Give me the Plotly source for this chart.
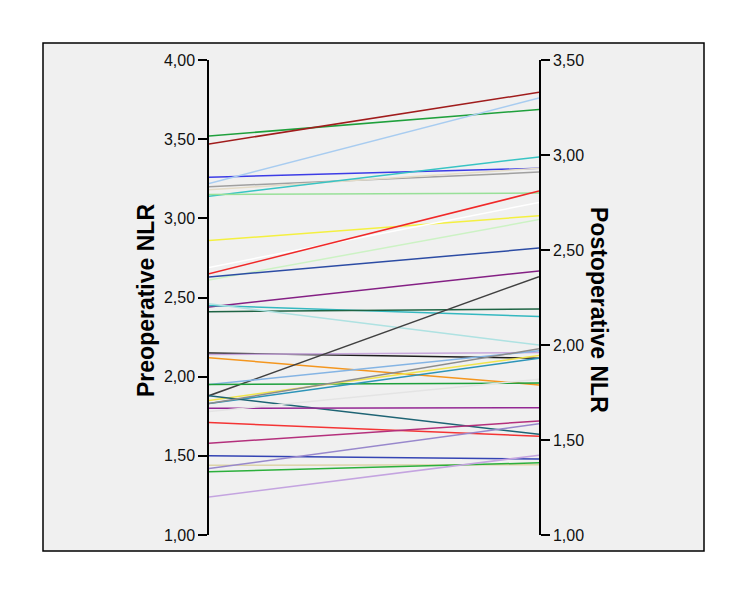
import plotly.graph_objects as go

# NLR per patient: preoperative (left axis) and postoperative (right axis)
pre_nlr = [3.52, 3.47, 3.26, 3.22, 3.20, 3.18, 3.14, 3.15, 2.86, 2.69,
           2.65, 2.61, 2.63, 2.44, 2.45, 2.41, 2.46, 2.15, 2.14, 2.12,
           1.88, 1.95, 1.95, 1.85, 1.83, 1.88, 1.80, 1.71, 1.83, 1.58,
           1.50, 1.44, 1.42, 1.40, 1.24, 1.78]
post_nlr = [3.24, 3.33, 2.93, 3.30, 2.91, 2.93, 2.99, 2.80, 2.68, 2.75,
            2.81, 2.66, 2.51, 2.39, 2.15, 2.19, 2.00, 1.93, 1.96, 1.79,
            2.36, 1.97, 1.80, 1.945, 1.93, 1.53, 1.67, 1.52, 1.98, 1.60,
            1.40, 1.37, 1.585, 1.38, 1.42, 1.82]
line_colors = ['#1FA03C', '#A01C1C', '#3C3CE6', '#A8CCF0', '#A0A0A0', '#E4DCC8',
               '#38C4C4', '#98E098', '#F4F040', '#FFFFFF', '#F02828', '#CCF2C4',
               '#2C4CA4', '#842084', '#34B8C0', '#1E6444', '#AEE2E2', '#1E1E1E',
               '#C8A8DC', '#F4961E', '#404040', '#84B4E4', '#1EA03C', '#F0E44C',
               '#2C94B8', '#1E6474', '#942894', '#F43434', '#8C8C8C', '#B4307C',
               '#3444B4', '#DCD4A8', '#9888CC', '#2CB03C', '#C4A4E0', '#E4E4E4']

left_ticks = [1.0, 1.5, 2.0, 2.5, 3.0, 3.5, 4.0]
right_ticks = [1.0, 1.5, 2.0, 2.5, 3.0, 3.5]
left_range = [1.0, 4.0]
right_range = [1.0, 3.5]


def to_left(v):
    # place a postoperative value on the left axis scale
    return left_range[0] + (v - right_range[0]) * (left_range[1] - left_range[0]) / (right_range[1] - right_range[0])


fig = go.Figure()
for pre, post, col in zip(pre_nlr, post_nlr, line_colors):
    fig.add_trace(go.Scatter(
        x=[0, 1], y=[pre, to_left(post)], mode='lines',
        line=dict(color=col, width=1.5), showlegend=False, hoverinfo='skip'
    ))

# dummy trace so the right axis is drawn
fig.add_trace(go.Scatter(x=[1], y=[right_range[0]], yaxis='y2', mode='markers',
                         marker=dict(size=0.1, opacity=0), showlegend=False, hoverinfo='skip'))

# pixel geometry (page body adds an 8px margin, so the figure is 8px smaller)
OFF = 8
W, H = 750 - OFF, 597 - OFF
L, T = 209 - OFF, 60 - OFF
pw, ph = 330, 475
R, B = W - L - pw, H - T - ph


def px(xp):
    return (xp - OFF - L) / pw


def py(yp):
    return (T + ph - (yp - OFF)) / ph


font_family = 'Liberation Sans, Arial, sans-serif'
axis_common = dict(
    ticks='outside', ticklen=9, tickwidth=1.5, tickcolor='black',
    showline=True, linecolor='black', linewidth=1.5,
    showgrid=False, zeroline=False, tickformat='.2f',
    tickfont=dict(family=font_family, size=16, color='#111111'),
    fixedrange=True,
)

fig.update_layout(
    width=W, height=H,
    margin=dict(l=L, r=R, t=T, b=B),
    paper_bgcolor='white', plot_bgcolor='rgba(0,0,0,0)',
    separators=',.',
    xaxis=dict(range=[0, 1], visible=False, fixedrange=True),
    yaxis=dict(range=left_range, tickvals=left_ticks, side='left', **axis_common),
    yaxis2=dict(range=right_range, tickvals=right_ticks, side='right', overlaying='y',
                anchor='x', **axis_common),
    shapes=[dict(type='rect', xref='paper', yref='paper',
                 x0=px(43), x1=px(704), y0=py(551), y1=py(43),
                 fillcolor='#F0F0F0', line=dict(color='black', width=1.5), layer='below')],
    annotations=[
        dict(text='<b>Preoperative NLR</b>', xref='paper', yref='paper',
             x=px(146), y=py(301), xanchor='center', yanchor='middle',
             textangle=-90, showarrow=False,
             font=dict(family=font_family, size=23, color='black')),
        dict(text='<b>Postoperative NLR</b>', xref='paper', yref='paper',
             x=px(599), y=py(310), xanchor='center', yanchor='middle',
             textangle=90, showarrow=False,
             font=dict(family=font_family, size=23, color='black')),
    ],
)

fig.write_html('out.html')
